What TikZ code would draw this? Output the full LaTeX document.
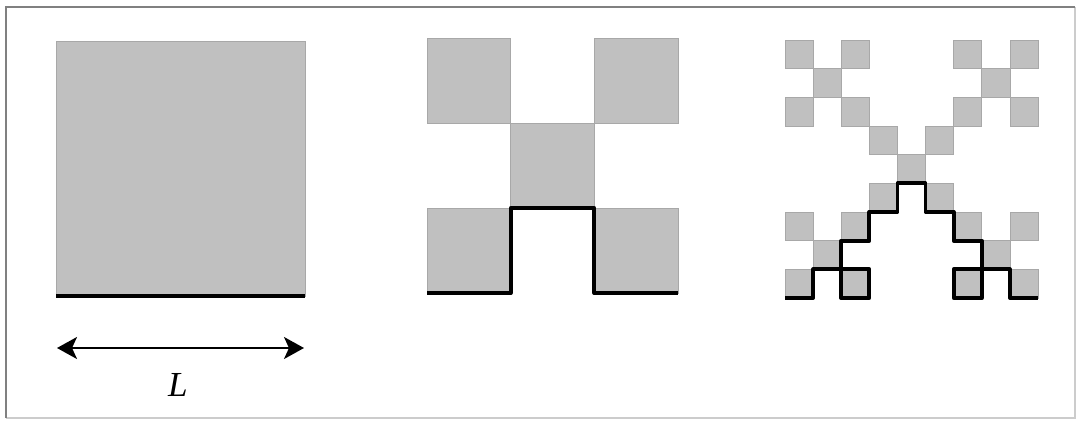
\documentclass[tikz,border=0pt]{standalone}
\usepackage{fontspec}
\setmainfont{Liberation Serif}
\usepackage{tikz}
\usetikzlibrary{arrows.meta}
\definecolor{sqgray}{HTML}{C0C0C0}
\definecolor{edgegray}{HTML}{A8A8A8}
\definecolor{framedark}{HTML}{808080}
\definecolor{framelight}{HTML}{CCCCCC}

\begin{document}
\begin{tikzpicture}[
  cell/.style={fill=sqgray, draw=edgegray, line width=0.4pt},
  curve/.style={line width=2.2pt, black, line join=round},
  dimarr/.style={{Stealth[length=4mm, width=4.4mm, inset=1mm]}-{Stealth[length=4mm, width=4.4mm, inset=1mm]}, line width=1.2pt},
]
\useasboundingbox (0,0) rectangle (21.68,8.42);
% frame
\draw[framelight, line width=1pt] (21.5,8.28) -- (21.5,0.06) -- (0.12,0.06);
\draw[framedark, line width=1.5pt] (0.12,0.06) -- (0.12,8.28) -- (21.5,8.28);

% stage 0: full square
\begin{scope}[shift={(1.12,2.5)}, x=4.98cm, y=5.1cm]
\path[cell] (0,0) rectangle (1,1);
\draw[curve, line width=2.5pt] (0,0) -- (1,0);
\end{scope}

% stage 1: five squares of side L/3
\begin{scope}[shift={(8.54,2.56)}, x=1.673cm, y=1.7cm]
\foreach \i/\j in {0/0,2/0,1/1,0/2,2/2}
  \path[cell] (\i,\j) rectangle ++(1,1);
\draw[curve] (0,0) -- (1,0) -- (1,1) -- (2,1) -- (2,0) -- (3,0);
\end{scope}

% stage 2: twenty-five squares of side L/9
\begin{scope}[shift={(15.70,2.46)}, x=0.5622cm, y=0.5733cm]
\foreach \i/\j in {0/0,2/0,1/1,0/2,2/2}
  \foreach \k/\l in {0/0,2/0,1/1,0/2,2/2}
    \path[cell] ({3*\i+\k},{3*\j+\l}) rectangle ++(1,1);
\draw[curve] (0,0) -- (1,0) -- (1,1) -- (2,1) -- (2,0) -- (3,0)
  -- (3,1) -- (2,1) -- (2,2) -- (3,2) -- (3,3)
  -- (4,3) -- (4,4) -- (5,4) -- (5,3) -- (6,3)
  -- (6,2) -- (7,2) -- (7,1) -- (6,1) -- (6,0)
  -- (7,0) -- (7,1) -- (8,1) -- (8,0) -- (9,0);
\end{scope}

% length scale
\coordinate (lend) at (1.14,1.46);
\coordinate (rend) at (6.08,1.46);
\draw[dimarr] (lend) -- (rend);
\node (lbl) at (3.56,0.72) {\fontsize{20}{24}\selectfont\textit{L}};
\end{tikzpicture}
\end{document}
